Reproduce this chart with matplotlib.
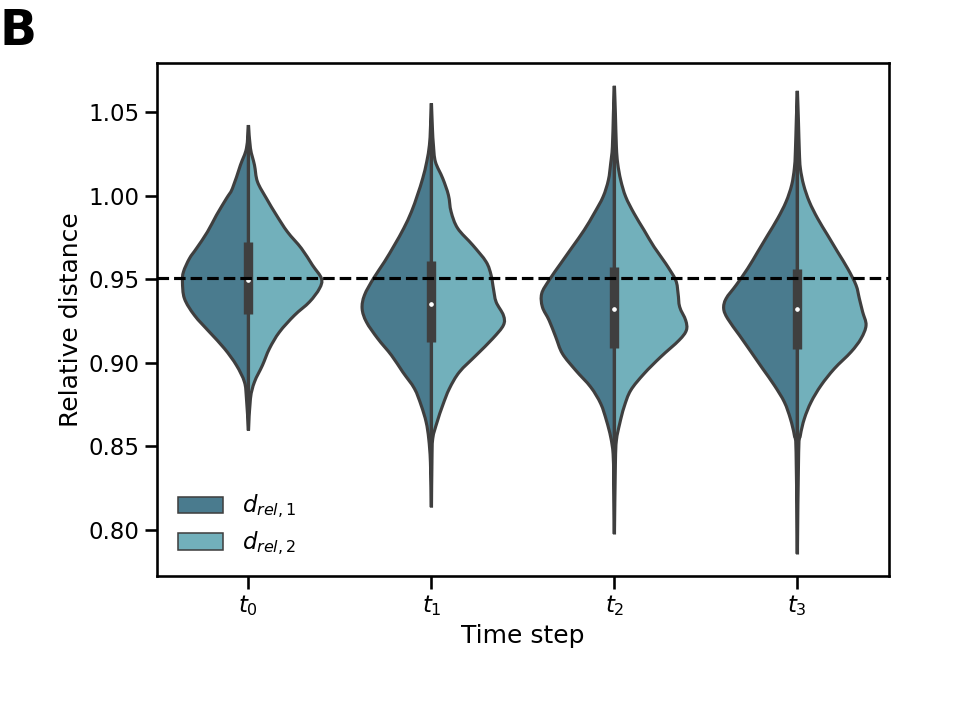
import matplotlib
matplotlib.use("Agg")
import matplotlib.pyplot as plt
from matplotlib.patches import Patch, PathPatch
from matplotlib.path import Path
import seaborn as sns

# Time step labels
time_steps = [r"$t_0$", r"$t_1$", r"$t_2$", r"$t_3$"]
series_labels = [r"$d_{rel,1}$", r"$d_{rel,2}$"]

# Density profiles (y value, half width) for every half violin
y_t0_1 = [1.0422, 1.0283, 1.0183, 1.0043, 0.9983, 0.9883, 0.9783, 0.9684, 0.9624, 0.9544,
          0.9484, 0.9384, 0.9284, 0.9184, 0.9085, 0.8985, 0.8885, 0.8786, 0.8596]
d_t0_1 = [0, 2, 8, 16, 22, 32, 41, 52, 59, 65, 66, 64, 54, 39, 24, 12, 4, 2, 0]
y_t0_2 = [1.0422, 1.0283, 1.0183, 1.0083, 0.9983, 0.9883, 0.9783, 0.9684, 0.9584, 0.9504,
          0.9444, 0.9364, 0.9284, 0.9184, 0.9085, 0.8985, 0.8885, 0.8786, 0.8596]
d_t0_2 = [0, 2, 6, 9, 18, 28, 39, 53, 64, 73, 71, 61, 46, 31, 21, 14, 6, 2, 0]

y_t1_1 = [1.0552, 1.0402, 1.0302, 1.0202, 1.0103, 1.0003, 0.9903, 0.9804, 0.9704, 0.9604, 0.9504,
          0.9404, 0.9324, 0.9244, 0.9145, 0.9045, 0.8945, 0.8846, 0.8746, 0.8646,
          0.8546, 0.8406, 0.8137]
d_t1_1 = [0, 1, 2, 4.7, 8.7, 14, 20, 27.7, 37, 47, 58, 67, 69.3, 65, 53.7, 40, 28.7, 17,
          10.3, 5.3, 2.7, 1, 0]
y_t1_2 = [1.0552, 1.0402, 1.0302, 1.0202, 1.0103, 1.0003, 0.9903, 0.9804, 0.9704, 0.9604, 0.9524,
          0.9444, 0.9364, 0.9284, 0.9225, 0.9145, 0.9045, 0.8945, 0.8846, 0.8746,
          0.8646, 0.8546, 0.8406, 0.8137]
d_t1_2 = [0, 1, 2, 4, 11.3, 17, 19.7, 26.3, 41.3, 54.7, 59.7, 62, 64.7, 72, 72, 61.3, 44.7,
          28, 18, 11.3, 5.7, 1.3, 0.5, 0]

y_t2_1 = [1.0656, 1.0492, 1.0292, 1.0193, 1.0093, 0.9993, 0.9893, 0.9793, 0.9693, 0.9594,
          0.9494, 0.9414, 0.9334, 0.9254, 0.9155, 0.9055, 0.8955, 0.8855, 0.8756, 0.8656,
          0.8556, 0.8456, 0.8296, 0.7977]
d_t2_1 = [0, 1, 2, 3.7, 6, 11.3, 20.3, 30.3, 42, 53.7, 65.3, 72.7, 72, 65.3, 58.7, 52,
          38.7, 23.7, 13.7, 8, 3.7, 1.3, 0.7, 0]
y_t2_2 = [1.0656, 1.0492, 1.0292, 1.0193, 1.0093, 0.9993, 0.9893, 0.9793, 0.9693, 0.9594,
          0.9494, 0.9414, 0.9334, 0.9254, 0.9195, 0.9135, 0.9035, 0.8935, 0.8835, 0.8736,
          0.8636, 0.8536, 0.8396, 0.7977]
d_t2_2 = [0, 1, 2, 3.3, 6.3, 11.3, 19.7, 29.7, 39.7, 51.3, 61.3, 63.7, 65.3, 71.3, 72,
          64.7, 46.3, 29.7, 16.3, 9.7, 5.3, 2, 1, 0]

y_t3_1 = [1.0626, 1.0462, 1.0262, 1.0163, 1.0063, 0.9963, 0.9863, 0.9763, 0.9663, 0.9564,
          0.9464, 0.9384, 0.9324, 0.9264, 0.9165, 0.9065, 0.8965, 0.8865, 0.8765, 0.8666,
          0.8566, 0.8466, 0.7858]
d_t3_1 = [0, 1, 2, 3, 5.7, 11.3, 19.7, 29.7, 39.7, 49.7, 61.3, 71.3, 73.7, 69.7, 58, 46.3,
          34.7, 23, 13, 7, 3, 1.3, 0]
y_t3_2 = [1.0626, 1.0462, 1.0262, 1.0163, 1.0063, 0.9963, 0.9863, 0.9763, 0.9663, 0.9564,
          0.9464, 0.9384, 0.9304, 0.9225, 0.9145, 0.9065, 0.8965, 0.8865, 0.8765, 0.8666,
          0.8566, 0.8466, 0.7858]
d_t3_2 = [0, 1, 2, 3, 6.3, 12, 20.3, 30.3, 40.3, 50.3, 58.7, 62, 65.3, 68.7, 63.7, 53.7,
          37, 23.7, 13.7, 7, 3, 1.3, 0]

# Quartiles and medians of the inner boxes
q1 = [0.9289, 0.9125, 0.9089, 0.9085]
q3 = [0.9723, 0.9610, 0.9574, 0.9560]
medians = [0.9498, 0.9350, 0.9322, 0.9320]

# Reference value (dashed line)
reference = 0.951


def half_violin_path(xs, ys, center):
    """Closed smooth outline (Catmull-Rom as Bezier) through the read points."""
    pts = list(zip(xs, ys))
    n = len(pts)
    verts = [pts[0]]
    codes = [Path.MOVETO]
    for k in range(n - 1):
        p0 = pts[max(k - 1, 0)]
        p1 = pts[k]
        p2 = pts[k + 1]
        p3 = pts[min(k + 2, n - 1)]
        c1 = (p1[0] + (p2[0] - p0[0]) / 6, p1[1] + (p2[1] - p0[1]) / 6)
        c2 = (p2[0] - (p3[0] - p1[0]) / 6, p2[1] - (p3[1] - p1[1]) / 6)
        verts += [c1, c2, p2]
        codes += [Path.CURVE4] * 3
    verts += [(center, ys[-1]), (center, ys[0]), pts[0]]
    codes += [Path.LINETO, Path.LINETO, Path.CLOSEPOLY]
    return Path(verts, codes)


# ==============================
# PLOTTING
# ==============================
sns.set_theme(context="talk", style="ticks")
plt.rcParams["font.family"] = ["DejaVu Sans"]
for key in ["text.color", "axes.labelcolor", "xtick.color", "ytick.color", "axes.edgecolor"]:
    plt.rcParams[key] = "black"

colors = ["#4a7b8e", "#72b0bb"]
gray = "#3f3f3f"
lw = 2.25
scale = 1 / 183.0  # density units -> x axis units

left_halves = [(y_t0_1, d_t0_1), (y_t1_1, d_t1_1), (y_t2_1, d_t2_1), (y_t3_1, d_t3_1)]
right_halves = [(y_t0_2, d_t0_2), (y_t1_2, d_t1_2), (y_t2_2, d_t2_2), (y_t3_2, d_t3_2)]

fig = plt.figure(figsize=(9.63, 7.15), dpi=100)
ax = fig.add_axes([0.163, 0.1944, 0.760, 0.7175])

for i in range(len(time_steps)):
    yl, dl = left_halves[i]
    yr, dr = right_halves[i]
    ax.add_patch(PathPatch(half_violin_path([i - d * scale for d in dl], yl, i),
                           facecolor=colors[0], edgecolor=gray, linewidth=lw, zorder=1))
    ax.add_patch(PathPatch(half_violin_path([i + d * scale for d in dr], yr, i),
                           facecolor=colors[1], edgecolor=gray, linewidth=lw, zorder=1))

    # Inner box: whisker, box and median
    lo = min(min(yl), min(yr))
    hi = max(max(yl), max(yr))
    ax.vlines(i, lo, hi, color=gray, linewidth=lw, zorder=2)
    ax.vlines(i, q1[i], q3[i], color=gray, linewidth=lw * 3, zorder=2)
    ax.scatter([i], [medians[i]], color="white", edgecolor=gray, s=(lw * 2) ** 2,
               zorder=3, linewidth=lw / 2)

ax.axhline(reference, color="black", linestyle="--", linewidth=lw, zorder=4)

ax.set_xlim(-0.5, 3.5)
ax.set_ylim(0.7725, 1.0793)
ax.set_xticks(range(len(time_steps)))
ax.set_xticklabels(time_steps)
ax.set_yticks([0.80, 0.85, 0.90, 0.95, 1.00, 1.05])
ax.set_xlabel("Time step")
ax.set_ylabel("Relative distance")

handles = [Patch(facecolor=colors[0], edgecolor=gray, linewidth=lw / 2, label=series_labels[0]),
           Patch(facecolor=colors[1], edgecolor=gray, linewidth=lw / 2, label=series_labels[1])]
ax.legend(handles=handles, loc="lower left", frameon=False, labelspacing=0.4,
          bbox_to_anchor=(0.0, -0.004))

fig.text(0.0, 0.99, "B", fontsize=35, fontweight="bold", va="top", ha="left")

fig.savefig("out.png", dpi=100)
